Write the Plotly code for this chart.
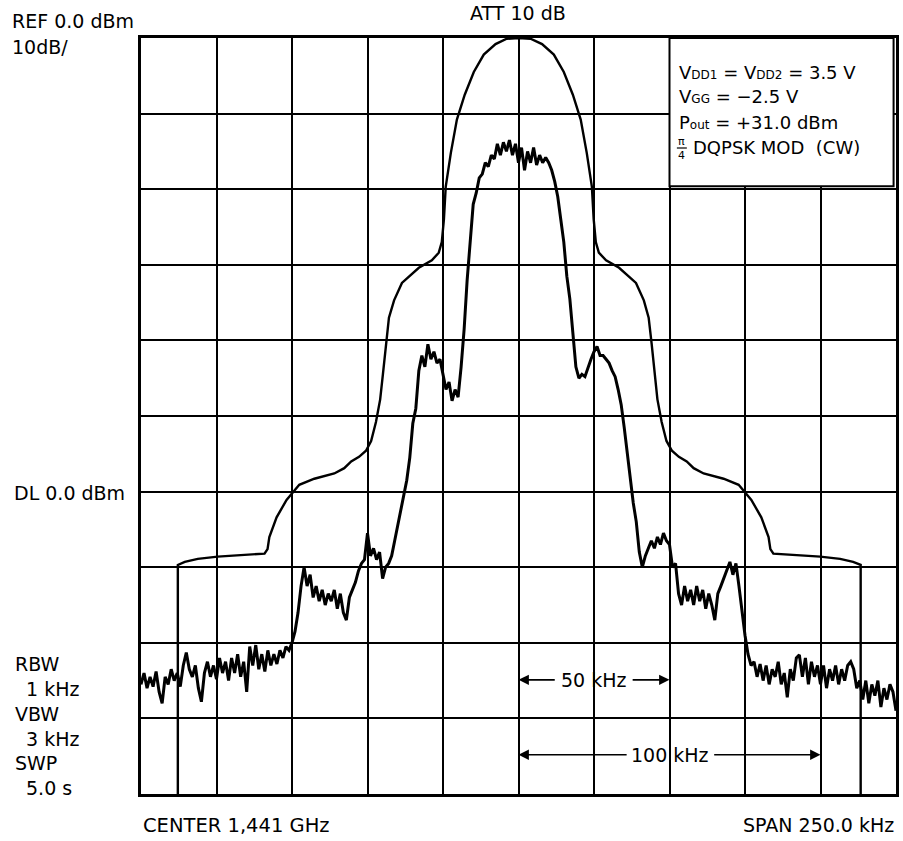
import numpy as np
import plotly.graph_objects as go

# ---------------- data ----------------
# frequency offset from centre (kHz), 1 kHz steps across the 250 kHz span
freq_khz = np.arange(-125, 126)

level_dbm = [
    -85.5, -84.0, -86.0, -84.5, -85.8, -83.8, -86.5, -88.0, -84.5, -85.5,
    -83.5, -85.0, -84.0, -85.8, -83.0, -81.3, -83.5, -84.5, -83.0, -86.0,
    -87.8, -84.0, -82.5, -84.5, -83.0, -84.8, -82.0, -84.0, -82.5, -85.0,
    -82.0, -84.0, -81.5, -84.5, -82.5, -86.5, -80.5, -83.0, -80.3, -83.5,
    -81.5, -83.8, -81.0, -83.0, -81.5, -82.8, -81.0, -82.0, -80.5, -81.0,
    -80.0, -78.5, -76.0, -72.5, -70.0, -72.5, -71.0, -74.0, -72.5, -74.5,
    -73.0, -75.0, -73.5, -74.5, -73.0, -75.5, -73.5, -76.0, -77.0, -74.0,
    -73.0, -72.0, -70.5, -69.5, -69.0, -65.5, -68.5, -67.5, -69.0, -68.0,
    -71.5, -70.0, -69.5, -68.5, -66.5, -64.5, -62.5, -60.5, -58.5, -55.5,
    -51.0, -49.0, -44.0, -42.0, -43.5, -40.5, -42.5, -41.5, -43.0, -42.5,
    -44.5, -46.5, -45.5, -48.0, -46.5, -47.5, -43.5, -38.5, -32.0, -27.0,
    -22.0, -20.5, -18.5, -18.0, -16.5, -17.0, -15.5, -16.0, -14.0, -15.5,
    -13.8, -15.0, -13.5, -15.5, -14.0, -16.5, -14.5, -17.5, -15.0, -16.5,
    -14.5, -16.8, -15.5, -16.5, -15.8, -16.5, -17.5, -19.0, -21.0, -24.0,
    -27.0, -31.5, -34.5, -39.0, -43.5, -45.0, -44.5, -44.8, -43.5, -42.5,
    -41.5, -40.8, -42.0, -42.0, -42.5, -43.0, -44.0, -44.8, -46.5, -48.5,
    -51.5, -55.0, -58.5, -61.5, -64.0, -68.0, -70.0, -68.5, -67.5, -66.5,
    -67.5, -66.0, -67.0, -65.5, -66.5, -67.0, -70.0, -69.5, -73.5, -75.0,
    -72.5, -74.5, -73.0, -75.0, -72.5, -74.5, -73.0, -75.5, -73.5, -75.0,
    -77.0, -73.5, -72.5, -71.5, -70.5, -69.3, -71.0, -69.5, -72.5, -76.0,
    -79.0, -81.5, -83.0, -82.5, -84.5, -82.8, -85.0, -83.0, -85.5, -83.5,
    -84.5, -82.5, -85.5, -84.0, -87.2, -83.5, -85.0, -82.0, -81.6, -84.5,
    -82.0, -85.5, -82.5, -84.5, -83.0, -85.5, -83.0, -86.0, -83.5, -85.0,
    -83.0, -85.5, -83.5, -85.0, -83.0, -82.5, -83.5, -86.0, -85.0, -87.5,
    -85.0, -88.0, -85.5, -87.0, -85.0, -88.5, -86.0, -87.5, -85.5, -86.5,
    -89.0,
]
assert len(level_dbm) == len(freq_khz)

# spectrum mask (smooth curve): frequency (kHz) and level (dBm)
mask_khz = [
    -112.8, -112.8, -110.5, -106.2, -99.6, -84.1, -83.1, -82.5, -80.1, -76.8,
    -72.6, -67.6, -61.0, -57.7, -55.4, -52.8, -50.5, -48.8, -47.2, -45.8,
    -44.9, -43.9, -42.9, -41.2, -38.6, -33.0, -28.7, -26.4, -25.4, -24.7,
    -24.1, -22.4, -20.4, -17.8, -14.8, -11.5, -7.6, -3.9, 0.0,
    4.0, 7.8, 11.7, 15.0, 18.0, 20.6, 22.6, 24.3, 24.9, 25.6,
    26.6, 29.0, 33.3, 38.9, 41.5, 43.1, 44.1, 45.1, 46.0, 47.4,
    49.0, 50.8, 53.1, 55.7, 58.0, 61.3, 67.9, 72.9, 77.1, 80.4,
    82.8, 83.4, 84.4, 99.9, 106.5, 110.8, 113.3, 113.3,
]
mask_dbm = [
    -100.0, -69.7, -69.3, -68.9, -68.6, -68.2, -67.6, -66.0, -63.4, -61.1,
    -59.1, -58.3, -57.6, -56.9, -56.0, -55.4, -54.6, -53.3, -50.8, -47.8,
    -44.5, -40.5, -37.0, -34.7, -32.4, -30.4, -29.4, -28.4, -27.0, -24.0,
    -19.7, -15.2, -10.8, -7.5, -4.5, -2.2, -0.8, -0.1, 0.0,
    -0.1, -0.8, -2.2, -4.5, -7.5, -10.8, -15.2, -19.7, -24.0, -27.0,
    -28.4, -29.4, -30.4, -32.4, -34.7, -37.0, -40.5, -44.5, -47.8, -50.8,
    -53.3, -54.6, -55.4, -56.0, -56.9, -57.6, -58.3, -59.1, -61.1, -63.4,
    -66.0, -67.6, -68.2, -68.6, -68.9, -69.3, -69.7, -100.0,
]

# ---------------- figure ----------------
W, H = 903, 841
L, R, T, B = 141, 4, 38, 47
FONT = "DejaVu Sans"
FS = 19


def pxx(x):
    return (x - L) / (W - L - R)


def pxy(y):
    return (H - B - y) / (H - T - B)


fig = go.Figure()
fig.add_trace(go.Scatter(x=mask_khz, y=mask_dbm, mode="lines",
                         line=dict(color="black", width=2.4),
                         hoverinfo="skip", showlegend=False))
fig.add_trace(go.Scatter(x=freq_khz, y=level_dbm, mode="lines",
                         line=dict(color="black", width=3),
                         hoverinfo="skip", showlegend=False))

axis_common = dict(showticklabels=False, ticks="", showgrid=True,
                   gridcolor="black", gridwidth=1.8, zeroline=False,
                   showline=True, linecolor="black", linewidth=2.5,
                   mirror=True, fixedrange=True)
fig.update_xaxes(range=[-125, 125], dtick=25, tick0=0, **axis_common)
fig.update_yaxes(range=[-100, 0], dtick=10, tick0=0, **axis_common)

# condition box (white, covering the grid)
fig.add_shape(type="rect", xref="x", yref="y", x0=50, x1=124.2, y0=-19.6, y1=0,
              fillcolor="white", line=dict(color="black", width=2), layer="above")

ann = []


def text(s, x, y, xanchor="left", size=FS):
    ann.append(dict(text=s, x=pxx(x), y=pxy(y), xref="paper", yref="paper",
                    xanchor=xanchor, yanchor="middle", showarrow=False,
                    font=dict(family=FONT, size=size, color="black")))


text("REF 0.0 dBm", 9, 21)
text("10dB/", 9, 47)
text("ATT 10 dB", 519, 13, xanchor="center")
text("DL 0.0 dBm", 11, 493)
text("RBW", 12, 664)
text("1 kHz", 24, 689)
text("VBW", 12, 714)
text("3 kHz", 24, 739)
text("SWP", 12, 763)
text("5.0 s", 24, 788)
text("CENTER 1,441 GHz", 141, 825, size=19.5)
text("SPAN 250.0 kHz", 899, 825, xanchor="right")

sm = "<span style='font-size:12px'>%s</span>"
BFS = 18
text("V" + sm % "DD1" + " = V" + sm % "DD2" + " = 3.5 V", 679, 72, size=BFS)
text("V" + sm % "GG" + " = −2.5 V", 679, 97, size=BFS)
text("P" + sm % "out" + " = +31.0 dBm", 679, 122, size=BFS)
text("π", 684, 141, xanchor="center", size=11)
text("4", 684, 155, xanchor="center", size=11)
text("DQPSK MOD  (CW)", 693, 148, size=BFS)
fig.add_shape(type="line", xref="paper", yref="paper",
              x0=pxx(679), x1=pxx(689), y0=pxy(148), y1=pxy(148),
              line=dict(color="black", width=1.2), layer="above")

# bandwidth markers
text("50 kHz", 596, 680, xanchor="center")
text("100 kHz", 672, 755, xanchor="center")


def arrow(tip, tail, yv):
    ann.append(dict(x=tip, y=yv, ax=tail, ay=yv, xref="x", yref="y",
                    axref="x", ayref="y", text="", showarrow=True,
                    arrowhead=2, arrowsize=1.3, arrowwidth=1.6,
                    arrowcolor="black"))


arrow(0, 12.5, -84.9)
arrow(50, 37.3, -84.9)
arrow(0, 36.3, -94.8)
arrow(100, 64.3, -94.8)

fig.update_layout(width=W, height=H, margin=dict(l=L, r=R, t=T, b=B),
                  paper_bgcolor="white", plot_bgcolor="white",
                  annotations=ann, showlegend=False, hovermode=False)

fig.write_html("out.html", config={"displayModeBar": False},
               post_script="document.body.style.margin='0px';"
                           "document.body.style.overflow='hidden';")
